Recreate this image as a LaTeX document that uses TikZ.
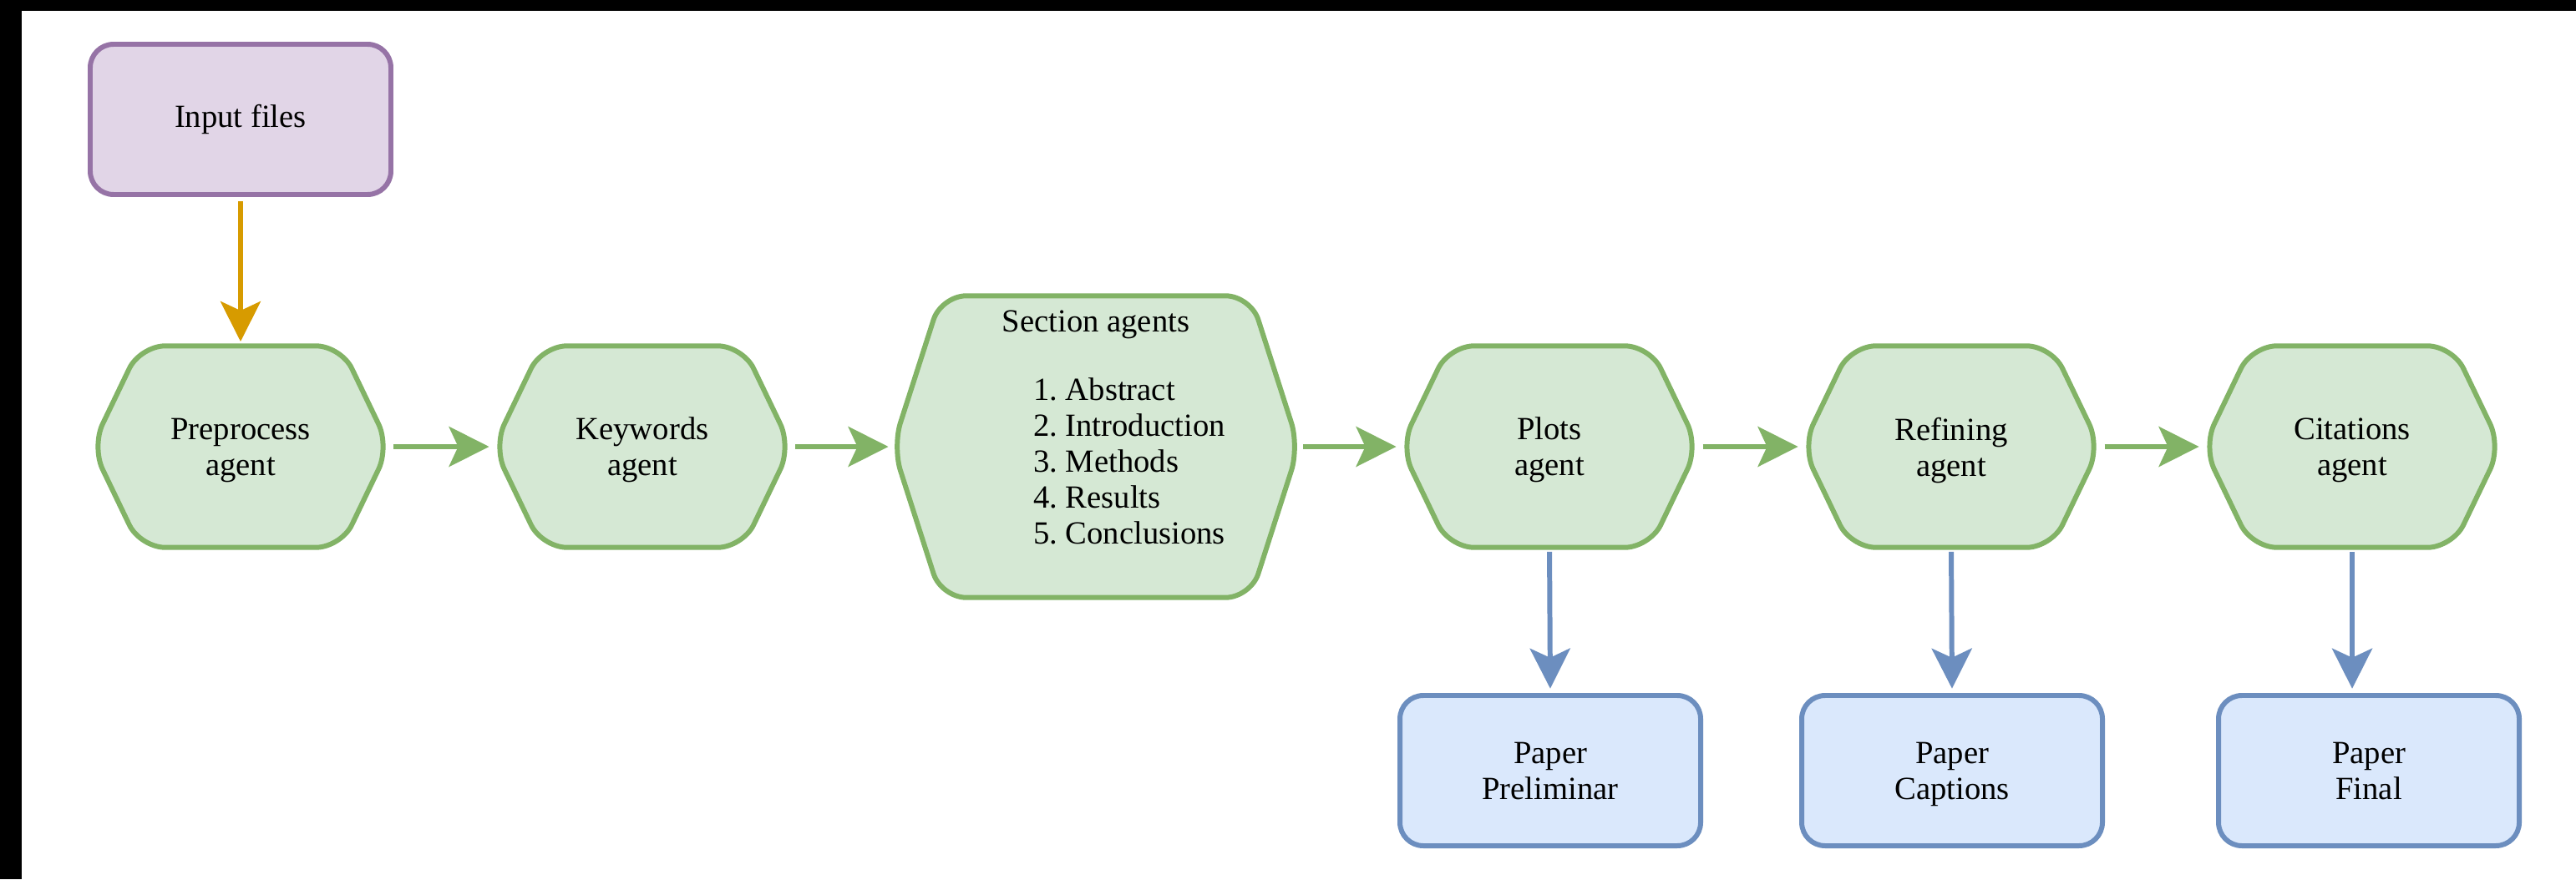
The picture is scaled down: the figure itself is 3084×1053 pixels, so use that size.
\documentclass[tikz,border=0pt]{standalone}
\usepackage{fontspec}
\setmainfont{Liberation Serif}
\usetikzlibrary{positioning,arrows.meta,backgrounds}
\definecolor{inF}{HTML}{E1D5E7}
\definecolor{inL}{HTML}{9673A6}
\definecolor{agF}{HTML}{D5E8D4}
\definecolor{agL}{HTML}{82B366}
\definecolor{ppF}{HTML}{DAE8FC}
\definecolor{ppL}{HTML}{6C8EBF}
\definecolor{feed}{HTML}{D79B00}

\begin{document}
\begin{tikzpicture}[
  x=0.1mm, y=-0.1mm,
  font=\fontsize{11}{12.2}\selectfont,
  box/.style={rounded corners=2.8mm, draw, line width=1.7pt, align=center, inner sep=0pt, minimum width=36mm, minimum height=18mm},
  input/.style={box, fill=inF, draw=inL},
  paper/.style={box, fill=ppF, draw=ppL},
  agent/.style={align=center, inner sep=0pt, minimum width=35.5mm, minimum height=24mm},
  hexline/.style={rounded corners=3mm, line width=1.7pt, draw=agL, fill=agF},
  flow/.style={-{Stealth[length=4.8mm, width=4.8mm, inset=1.1mm]}, line width=1.7pt, shorten <=1.5pt, shorten >=1.5pt},
]

% ---------- nodes ----------
\node[input] (files) at (288,143) {Input files};

\node[agent] (pre) at (288,535) {Preprocess\\\smash{agent}};
\node[agent] (key) at (769,535) {Keywords\\\smash{agent}};
\node[agent, minimum width=48.5mm, minimum height=36mm] (sec) at (1312,535) {Section agents\\[3.9mm]
  \hspace*{8mm}\begin{tabular}[t]{@{}r@{\ }l@{}}
  1. & Abstract\\
  2. & Introduction\\
  3. & Methods\\
  4. & Results\\
  5. & Conclusions\\[3.4mm]
  \end{tabular}};
\node[agent] (plt) at (1855,535) {Plots\\\smash{agent}};
\node[agent] (ref) at (2336,535) {Refining\\\smash{agent}};
\node[agent] (cit) at (2816,535) {Citations\\\smash{agent}};

\node[paper] (prel) at (1856,923) {Paper\\\smash{Preliminar}};
\node[paper] (capt) at (2337,923) {Paper\\\smash{Captions}};
\node[paper] (final) at (2836,923) {Paper\\\smash{Final}};

% frame and hexagon outlines behind the labels
\begin{scope}[on background layer]
  \fill[white] (0,0) rectangle (3084,1053);
  \fill[black] (0,0) rectangle (3084,13);
  \fill[black] (0,0) rectangle (26,1053);
  \foreach \n in {pre,key,sec,plt,ref,cit}
    \draw[hexline] (\n.west) -- ([xshift=5.8mm]\n.north west) -- ([xshift=-5.8mm]\n.north east)
      -- (\n.east) -- ([xshift=-5.8mm]\n.south east) -- ([xshift=5.8mm]\n.south west) -- cycle;
\end{scope}

% ---------- flows ----------
\draw[flow, draw=feed] (files.south) -- (pre.north);

\draw[flow, draw=agL] (pre.east) -- (key.west);
\draw[flow, draw=agL] (key.east) -- (sec.west);
\draw[flow, draw=agL] (sec.east) -- (plt.west);
\draw[flow, draw=agL] (plt.east) -- (ref.west);
\draw[flow, draw=agL] (ref.east) -- (cit.west);

\draw[flow, draw=ppL] (plt.south) -- (prel.north);
\draw[flow, draw=ppL] (ref.south) -- (capt.north);
\draw[flow, draw=ppL] (cit.south) -- (cit.south |- final.north);

\end{tikzpicture}
\end{document}
